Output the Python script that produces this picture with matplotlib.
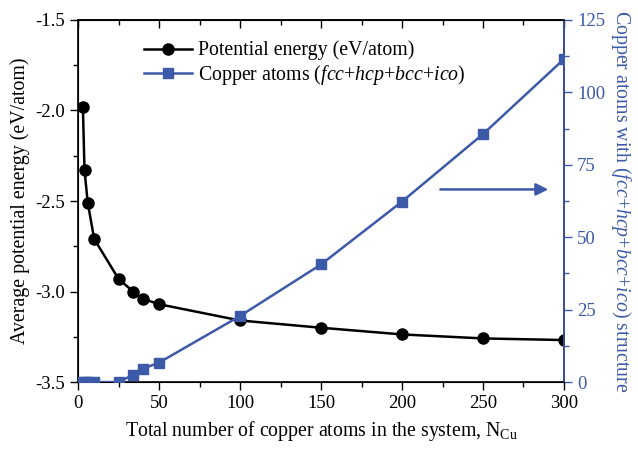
import numpy as np
import matplotlib
matplotlib.use("Agg")
import matplotlib.pyplot as plt
from matplotlib.ticker import MultipleLocator

plt.rcParams['font.family'] = ['Liberation Serif', 'DejaVu Serif']
plt.rcParams['mathtext.fontset'] = 'custom'
plt.rcParams['mathtext.rm'] = 'Liberation Serif'
plt.rcParams['mathtext.it'] = 'Liberation Serif:italic'

# datos
n_cu = [3, 4, 6, 10, 25, 34, 40, 50, 100, 150, 200, 250, 300]
energia = [-1.98, -2.33, -2.51, -2.71, -2.93, -3.00, -3.04, -3.07, -3.16, -3.20, -3.237, -3.259, -3.268]
atomos = [0, 0, 0, 0, 0, 2.5, 4.6, 6.7, 22.8, 40.6, 62.3, 85.6, 111.5]

azul = '#3d5aa8'
fs_tick = 13.5
fs_lab = 14.3

fig = plt.figure(figsize=(6.38, 4.5), dpi=100)
ax = fig.add_axes([0.1223, 0.151, 0.7617, 0.8046])
ax2 = ax.twinx()

l1, = ax.plot(n_cu, energia, '-o', color='black', lw=1.8, ms=8, zorder=3,
              label='Potential energy (eV/atom)')
l2, = ax2.plot(n_cu, atomos, '-s', color=azul, lw=1.8, ms=7, zorder=3,
               label=r'Copper atoms $\mathit{(fcc}$+$\mathit{hcp}$+$\mathit{bcc}$+$\mathit{ico)}$')

ax.set_xlim(0, 300)
ax.set_ylim(-3.5, -1.5)
ax2.set_ylim(0, 125)

ax.xaxis.set_major_locator(MultipleLocator(50))
ax.xaxis.set_minor_locator(MultipleLocator(25))
ax.yaxis.set_major_locator(MultipleLocator(0.5))
ax.yaxis.set_minor_locator(MultipleLocator(0.25))
ax2.yaxis.set_major_locator(MultipleLocator(25))
ax2.yaxis.set_minor_locator(MultipleLocator(12.5))

ax.yaxis.set_major_formatter(plt.FuncFormatter(lambda v, p: '%.1f' % v))

ax.tick_params(axis='x', which='both', direction='out', labelsize=fs_tick)
ax.tick_params(axis='y', which='both', direction='out', labelsize=fs_tick)
ax.tick_params(which='major', length=6, width=1)
ax.tick_params(which='minor', length=3.5, width=1)
ax2.tick_params(axis='y', which='both', direction='out', colors=azul, labelsize=fs_tick, width=1)
ax2.tick_params(which='major', length=6)
ax2.tick_params(which='minor', length=3.5)
ax2.spines['right'].set_color(azul)

# ticks superiores hacia adentro
axt = ax.secondary_xaxis('top')
axt.xaxis.set_major_locator(MultipleLocator(50))
axt.xaxis.set_minor_locator(MultipleLocator(25))
axt.tick_params(which='both', direction='in', labeltop=False, width=1)
axt.tick_params(which='major', length=6)
axt.tick_params(which='minor', length=3.5)
axt.spines['top'].set_linewidth(1.2)

for s in ax.spines.values():
    s.set_linewidth(1.2)
ax2.spines['right'].set_linewidth(1.2)

ax.set_xlabel(r'Total number of copper atoms in the system, N$_\mathregular{Cu}$', fontsize=fs_lab, labelpad=5)
ax.set_ylabel('Average potential energy (eV/atom)', fontsize=fs_lab)
ax2.set_ylabel(r'Copper atoms with ($\mathit{fcc}$+$\mathit{hcp}$+$\mathit{bcc}$+$\mathit{ico}$) structure',
               fontsize=fs_lab, color=azul, rotation=-90, labelpad=20)

ax2.legend(handles=[l1, l2], loc='upper left', bbox_to_anchor=(0.1, 0.992), frameon=False,
           fontsize=fs_lab, handlelength=2.4, handletextpad=0.3, labelspacing=0.12)

# flecha que indica el eje derecho
ax2.annotate('', xy=(292, 66.5), xytext=(222, 66.5),
             arrowprops=dict(arrowstyle='-|>', color=azul, lw=1.8, mutation_scale=18))

fig.savefig('out.png', dpi=100)
